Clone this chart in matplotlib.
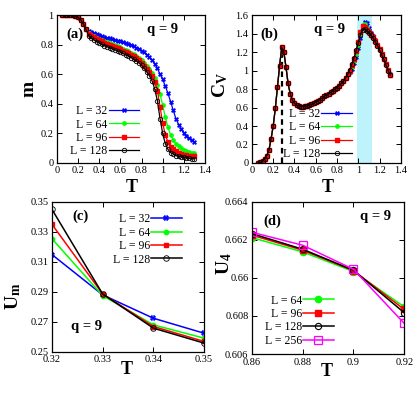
import numpy as np
import matplotlib
matplotlib.use('Agg')
from matplotlib import pyplot as plt

plt.rcParams['font.family'] = ['Liberation Serif', 'DejaVu Serif']
plt.rcParams['mathtext.fontset'] = 'custom'
plt.rcParams['mathtext.rm'] = 'Liberation Serif'
plt.rcParams['mathtext.bf'] = 'Liberation Serif:bold'
plt.rcParams['xtick.direction'] = 'in'
plt.rcParams['ytick.direction'] = 'in'
plt.rcParams['xtick.top'] = True
plt.rcParams['ytick.right'] = True

# ---- panel (a): magnetisation m(T) ----
T_a = np.linspace(0.05, 1.30, 51)
m_start = [1.0, 1.0, 1.0, 1.0, 0.998, 0.993, 0.985, 0.97, 0.94, 0.905]
m_32 = m_start + [0.895, 0.885, 0.877, 0.87, 0.864, 0.858, 0.852, 0.847, 0.842, 0.837,
                  0.832, 0.827, 0.822, 0.816, 0.81, 0.803, 0.797, 0.789, 0.78, 0.771,
                  0.76, 0.748, 0.733, 0.715, 0.695, 0.67, 0.64, 0.60, 0.565, 0.52,
                  0.47, 0.415, 0.355, 0.30, 0.26, 0.228, 0.203, 0.183, 0.166, 0.152, 0.14]
m_64 = m_start + [0.882, 0.868, 0.857, 0.848, 0.84, 0.832, 0.825, 0.818, 0.811, 0.804,
                  0.797, 0.79, 0.782, 0.774, 0.765, 0.756, 0.746, 0.735, 0.723, 0.71,
                  0.695, 0.678, 0.658, 0.635, 0.607, 0.572, 0.525, 0.465, 0.39, 0.31,
                  0.24, 0.19, 0.155, 0.13, 0.112, 0.099, 0.089, 0.081, 0.075, 0.07, 0.066]
m_96 = m_start + [0.875, 0.86, 0.849, 0.839, 0.83, 0.822, 0.814, 0.806, 0.799, 0.792,
                  0.785, 0.777, 0.769, 0.76, 0.751, 0.742, 0.732, 0.721, 0.709, 0.696,
                  0.675, 0.657, 0.637, 0.613, 0.585, 0.548, 0.49, 0.38, 0.27, 0.19,
                  0.14, 0.11, 0.092, 0.08, 0.07, 0.063, 0.057, 0.052, 0.048, 0.046, 0.044]
m_128 = m_start + [0.862, 0.845, 0.832, 0.821, 0.811, 0.802, 0.794, 0.786, 0.779, 0.772,
                   0.765, 0.757, 0.749, 0.741, 0.732, 0.723, 0.713, 0.703, 0.691, 0.678,
                   0.66, 0.64, 0.617, 0.59, 0.555, 0.50, 0.42, 0.30, 0.20, 0.13,
                   0.092, 0.07, 0.06, 0.05, 0.044, 0.04, 0.037, 0.034, 0.032, 0.03, 0.028]

# ---- panel (b): specific heat Cv(T) ----
T_b = np.linspace(0.06, 1.30, 63)
cv_low = [0.0, 0.005, 0.02, 0.045, 0.08, 0.14, 0.26, 0.40, 0.59, 0.82,
          1.05, 1.25, 1.20, 1.04, 0.86, 0.75, 0.68, 0.645, 0.625, 0.615,
          0.61, 0.608, 0.612, 0.617, 0.624, 0.633, 0.644, 0.657, 0.671, 0.686,
          0.702, 0.72, 0.74, 0.75, 0.765, 0.78, 0.80, 0.815, 0.835, 0.86,
          0.885, 0.92, 0.96]
cv_32 = cv_low + [0.98, 1.02, 1.08, 1.15, 1.24, 1.35, 1.46, 1.53, 1.51, 1.46,
                  1.41, 1.37, 1.33, 1.28, 1.23, 1.18, 1.13, 1.07, 1.01, 0.96]
cv_64 = cv_low + [0.99, 1.04, 1.10, 1.18, 1.28, 1.40, 1.49, 1.50, 1.46, 1.43,
                  1.39, 1.35, 1.31, 1.27, 1.22, 1.17, 1.12, 1.06, 1.00, 0.95]
cv_96 = cv_low + [1.00, 1.06, 1.13, 1.21, 1.31, 1.42, 1.48, 1.47, 1.44, 1.42,
                  1.39, 1.36, 1.32, 1.28, 1.23, 1.18, 1.13, 1.07, 1.01, 0.95]
cv_128 = cv_low + [1.01, 1.07, 1.14, 1.22, 1.30, 1.39, 1.44, 1.45, 1.43, 1.41,
                   1.38, 1.35, 1.31, 1.27, 1.22, 1.17, 1.12, 1.06, 1.00, 0.95]
T_peak = 0.28
cv_peak = 1.25
band = (0.99, 1.13)

# ---- panel (c): Um near low transition ----
T_c = [0.32, 0.33, 0.34, 0.35]
um_32 = [0.3147, 0.2878, 0.2722, 0.2622]
um_64 = [0.3253, 0.2873, 0.2678, 0.2589]
um_96 = [0.3349, 0.2884, 0.2667, 0.2567]
um_128 = [0.3449, 0.2884, 0.2656, 0.2556]

# ---- panel (d): U4 near high transition ----
T_d = [0.86, 0.88, 0.90, 0.92]
u4_64 = [0.66211, 0.66136, 0.66033, 0.65848]
u4_96 = [0.66224, 0.66145, 0.66038, 0.65834]
u4_128 = [0.66232, 0.66150, 0.66040, 0.65817]
u4_256 = [0.66239, 0.66171, 0.66045, 0.65761]
u4_ticks = [0.656, 0.658, 0.660, 0.662, 0.664]
u4_ticklabels = ['0.606', '0.608', '0.66', '0.662', '0.664']

sizes = ['L = 32', 'L = 64', 'L = 96', 'L = 128']
colors = ['#0000ff', '#00ff00', '#ff0000', 'black']

fig = plt.figure(figsize=(4.15, 4.2), dpi=100)
ax_a = fig.add_axes([0.137, 0.612, 0.357, 0.352])
ax_b = fig.add_axes([0.607, 0.612, 0.359, 0.352])
ax_c = fig.add_axes([0.125, 0.163, 0.367, 0.357])
ax_d = fig.add_axes([0.607, 0.157, 0.367, 0.363])

def style(ax):
    ax.tick_params(labelsize=7.5, length=3.5, width=0.7, pad=2.5)
    for s in ax.spines.values():
        s.set_linewidth(0.9)

def marks(ax, x, ys, lw=0.9, ms=3.0):
    ax.plot(x, ys[0], color=colors[0], marker='X', ms=ms + 0.3, mew=0.2, lw=lw, label=sizes[0])
    ax.plot(x, ys[1], color=colors[1], marker='o', ms=ms - 0.6, lw=lw, label=sizes[1])
    ax.plot(x, ys[2], color=colors[2], marker='s', ms=ms - 0.4, lw=lw, label=sizes[2])
    ax.plot(x, ys[3], color=colors[3], marker='o', ms=ms + 0.2, mfc='none', mew=0.6, lw=lw, label=sizes[3])

def legend(ax, anchor, loc, labels_fs=8.5):
    ax.legend(loc=loc, bbox_to_anchor=anchor, frameon=False, markerfirst=False,
              fontsize=labels_fs, handlelength=2.6, handletextpad=0.1,
              labelspacing=0.12, borderpad=0.1, borderaxespad=0.0)

# (a)
marks(ax_a, T_a, [m_32, m_64, m_96, m_128])
ax_a.set_xlim(0, 1.4)
ax_a.set_ylim(0, 1)
ax_a.set_xticks([0, 0.2, 0.4, 0.6, 0.8, 1, 1.2, 1.4])
ax_a.set_yticks([0, 0.2, 0.4, 0.6, 0.8, 1])
ax_a.set_xticklabels(['0', '0.2', '0.4', '0.6', '0.8', '1', '1.2', '1.4'])
ax_a.set_yticklabels(['0', '0.2', '0.4', '0.6', '0.8', '1'])
ax_a.set_xlabel('T', fontsize=13, fontweight='bold')
ax_a.set_ylabel('m', fontsize=14, fontweight='bold')
ax_a.xaxis.set_label_coords(0.507, -0.11)
ax_a.yaxis.set_label_coords(-0.13, 0.5)
ax_a.text(0.12, 0.87, '(a)', transform=ax_a.transAxes, fontsize=10.5,
          fontweight='bold', ha='center', va='center')
ax_a.text(0.71, 0.90, 'q = 9', transform=ax_a.transAxes, fontsize=10.5,
          fontweight='bold', ha='center', va='center')
legend(ax_a, (0.565, 0.03), 'lower right')
style(ax_a)

# (b)
ax_b.axvspan(band[0], band[1], color='#bff3fb', lw=0, zorder=0)
ax_b.plot([T_peak, T_peak], [0, cv_peak], color='black', ls=(0, (2.5, 1.8)), lw=1.6, zorder=1)
marks(ax_b, T_b, [cv_32, cv_64, cv_96, cv_128])
ax_b.set_xlim(0, 1.4)
ax_b.set_ylim(0, 1.6)
ax_b.set_xticks([0, 0.2, 0.4, 0.6, 0.8, 1, 1.2, 1.4])
ax_b.set_xticklabels(['0', '0.2', '0.4', '0.6', '0.8', '1', '1.2', '1.4'])
ax_b.set_yticks([0, 0.2, 0.4, 0.6, 0.8, 1, 1.2, 1.4, 1.6])
ax_b.set_yticklabels(['0', '0.2', '0.4', '0.6', '0.8', '1', '1.2', '1.4', '1.6'])
ax_b.set_xlabel('T', fontsize=13, fontweight='bold')
ax_b.set_ylabel(r'$\mathbf{C_V}$', fontsize=14)
ax_b.xaxis.set_label_coords(0.51, -0.11)
ax_b.yaxis.set_label_coords(-0.15, 0.53)
ax_b.text(0.12, 0.87, '(b)', transform=ax_b.transAxes, fontsize=10.5,
          fontweight='bold', ha='center', va='center')
ax_b.text(0.52, 0.90, 'q = 9', transform=ax_b.transAxes, fontsize=10.5,
          fontweight='bold', ha='center', va='center')
legend(ax_b, (0.68, 0.01), 'lower right')
style(ax_b)

# (c)
marks(ax_c, T_c, [um_32, um_64, um_96, um_128], lw=1.1, ms=3.8)
ax_c.set_xlim(0.32, 0.35)
ax_c.set_ylim(0.25, 0.35)
ax_c.set_xticks(T_c)
ax_c.set_xticklabels(['0.32', '0.33', '0.34', '0.35'])
ax_c.set_yticks([0.25, 0.27, 0.29, 0.31, 0.33, 0.35])
ax_c.set_yticklabels(['0.25', '0.27', '0.29', '0.31', '0.33', '0.35'])
ax_c.set_xlabel('T', fontsize=13, fontweight='bold')
ax_c.set_ylabel(r'$\mathbf{U_m}$', fontsize=14)
ax_c.xaxis.set_label_coords(0.49, -0.06)
ax_c.yaxis.set_label_coords(-0.19, 0.37)
ax_c.text(0.19, 0.905, '(c)', transform=ax_c.transAxes, fontsize=10.5,
          fontweight='bold', ha='center', va='center')
ax_c.text(0.225, 0.17, 'q = 9', transform=ax_c.transAxes, fontsize=10.5,
          fontweight='bold', ha='center', va='center')
legend(ax_c, (0.86, 0.93), 'upper right')
style(ax_c)

# (d)
ax_d.plot(T_d, u4_64, color='#00ff00', marker='o', ms=4.5, lw=1.1, label='L = 64')
ax_d.plot(T_d, u4_96, color='#ff0000', marker='s', ms=5, lw=1.1, label='L = 96')
ax_d.plot(T_d, u4_128, color='black', marker='o', ms=4.5, mfc='none', mew=0.8, lw=1.1, label='L = 128')
ax_d.plot(T_d, u4_256, color='#ff00ff', marker='s', ms=5.5, mfc='none', mew=0.9, lw=1.1, label='L = 256')
ax_d.set_xlim(0.86, 0.92)
ax_d.set_ylim(0.656, 0.664)
ax_d.set_xticks(T_d)
ax_d.set_xticklabels(['0.86', '0.88', '0.9', '0.92'])
ax_d.set_yticks(u4_ticks)
ax_d.set_yticklabels(u4_ticklabels)
ax_d.set_xlabel('T', fontsize=13, fontweight='bold')
ax_d.set_ylabel(r'$\mathbf{U_4}$', fontsize=14)
ax_d.xaxis.set_label_coords(0.49, -0.06)
ax_d.yaxis.set_label_coords(-0.12, 0.59)
ax_d.text(0.135, 0.873, '(d)', transform=ax_d.transAxes, fontsize=10.5,
          fontweight='bold', ha='center', va='center')
ax_d.text(0.81, 0.90, 'q = 9', transform=ax_d.transAxes, fontsize=10.5,
          fontweight='bold', ha='center', va='center')
legend(ax_d, (0.545, 0.04), 'lower right')
style(ax_d)

fig.savefig('out.png', dpi=100)
